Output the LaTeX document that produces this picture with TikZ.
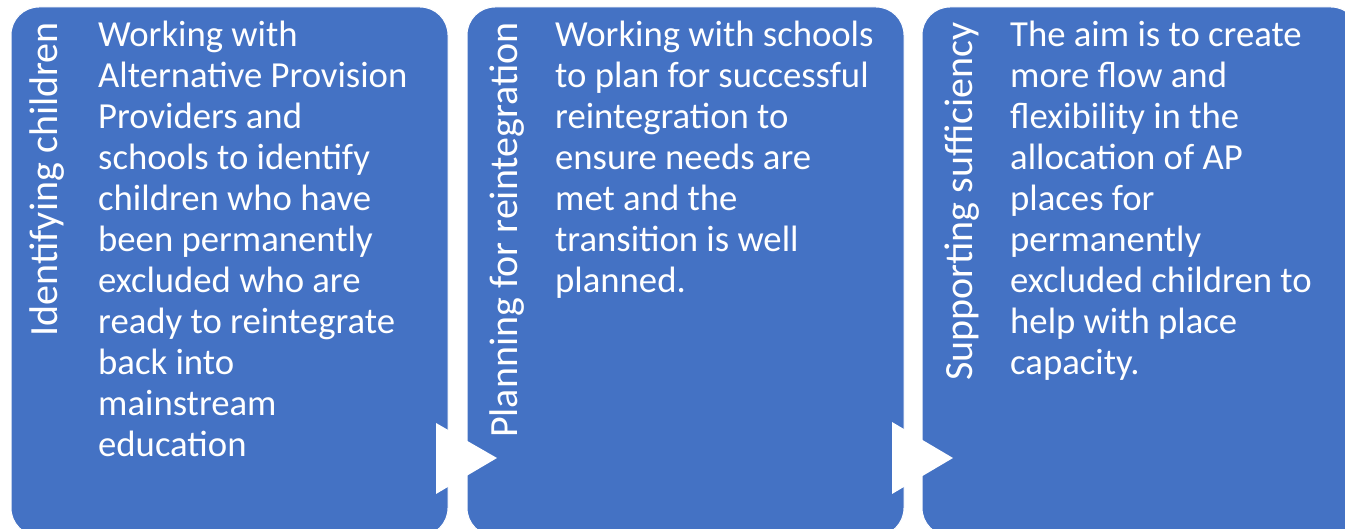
\documentclass[tikz,border=0pt]{standalone}
\usepackage{fontspec}
\setmainfont{Carlito}
\definecolor{boxblue}{RGB}{68,114,196}
\begin{document}
\begin{tikzpicture}[x=1pt,y=1pt,
  stage/.style={fill=boxblue, draw=white, line width=1pt, rounded corners=28pt},
  stagetitle/.style={rotate=90, anchor=base east, text=white, font=\fontsize{40}{46}\selectfont, inner sep=0pt},
  stagebody/.style={anchor=north west, text=white, align=left, font=\fontsize{36.7}{41}\selectfont, inner sep=0pt},
  chevron/.style={fill=white, draw=none}]
\useasboundingbox (0,0) rectangle (1345,529);
\clip (0,0) rectangle (1345,529);
\fill[white] (0,0) rectangle (1345,529);
% boxes
\path[stage] (11,-7) rectangle (448,522);
\path[stage] (467,-7) rectangle (904,522);
\path[stage] (922,-7) rectangle (1359,522);
% titles
\node[stagetitle] (t1) at (57,507) {Identifying children};
\node[stagetitle] (t2) at (517,507) {Planning for reintegration};
\node[stagetitle] (t3) at (972,507) {Supporting sufficiency};
% bodies
\node[stagebody] (b1) at (98,508) {Working with\\Alternative Provision\\Providers and\\schools to identify\\children who have\\been permanently\\excluded who are\\ready to reintegrate\\back into\\mainstream\\education};
\node[stagebody] (b2) at (555,508) {Working with schools\\to plan for successful\\reintegration to\\ensure needs are\\met and the\\transition is well\\planned.};
\node[stagebody] (b3) at (1010,508) {The aim is to create\\more flow and\\flexibility in the\\allocation of AP\\places for\\permanently\\excluded children to\\help with place\\capacity.};
% arrows
\path[chevron] (436,106) -- (497,71) -- (436,35) -- cycle;
\path[chevron] (892,107) -- (953,71) -- (892,35) -- cycle;
\end{tikzpicture}
\end{document}
